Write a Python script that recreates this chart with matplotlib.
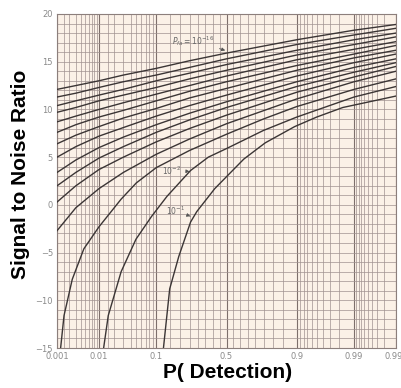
import math
import numpy as np
import matplotlib
matplotlib.use('Agg')
import matplotlib.pyplot as plt


### ----- Dados ----- ###

# colunas de P(deteção) onde as curvas foram lidas #
pd_cols = [0.001, 0.003, 0.01, 0.03, 0.1, 0.25, 0.5, 0.9, 0.99, 0.999]

# curvas que saem pela margem esquerda (dB) #
snr_e16 = [12.1, 12.5, 13.0, 13.6, 14.3, 15.1, 15.9, 17.3, 18.3, 18.9]
snr_e15 = [11.3, 11.7, 12.3, 12.9, 13.6, 14.4, 15.3, 16.8, 17.8, 18.5]
snr_e14 = [10.4, 10.9, 11.5, 12.1, 13.0, 13.8, 14.7, 16.2, 17.3, 18.0]
snr_e13 = [9.7, 10.2, 10.9, 11.5, 12.3, 13.2, 14.1, 15.7, 16.8, 17.6]
snr_e12 = [8.7, 9.3, 10.0, 10.7, 11.6, 12.5, 13.5, 15.2, 16.3, 17.1]
snr_e11 = [7.6, 8.4, 9.2, 9.9, 10.9, 11.9, 12.9, 14.6, 15.8, 16.7]
snr_e10 = [6.4, 7.3, 8.2, 9.1, 10.1, 11.2, 12.2, 14.1, 15.4, 16.2]
snr_e9 = [5.0, 6.1, 7.2, 8.1, 9.3, 10.4, 11.5, 13.5, 14.9, 15.8]
snr_e8 = [3.4, 4.7, 6.0, 7.1, 8.4, 9.6, 10.8, 12.9, 14.4, 15.3]
snr_e7 = [2.0, 3.4, 4.9, 6.1, 7.6, 8.9, 10.2, 12.4, 13.9, 14.9]
snr_e6 = [0.3, 2.0, 3.7, 5.0, 6.6, 8.0, 9.4, 11.8, 13.4, 14.5]
snr_e5 = [-2.7, -0.3, 1.7, 3.4, 5.3, 6.9, 8.5, 11.1, 12.9, 14.0]

# curvas que caem pelo fundo #
pd_e3 = [0.00124, 0.00152, 0.00245, 0.00464, 0.01, 0.0273, 0.05, 0.1, 0.25, 0.5, 0.75, 0.9, 0.99, 0.999]
snr_e3 = [-15.0, -11.6, -7.8, -4.6, -2.3, 0.6, 2.3, 3.9, 5.7, 7.4, 9.0, 10.3, 12.1, 13.2]
pd_e2 = [0.0125, 0.0155, 0.0273, 0.0493, 0.086, 0.139, 0.256, 0.37, 0.5, 0.75, 0.9, 0.99, 0.999]
snr_e2 = [-15.0, -11.6, -7.0, -3.6, -1.2, 0.9, 3.6, 5.0, 5.9, 7.8, 9.2, 11.3, 12.4]
pd_e1 = [0.125, 0.150, 0.192, 0.256, 0.294, 0.415, 0.624, 0.76, 0.893, 0.95, 0.983, 0.999]
snr_e1 = [-15.0, -8.8, -5.4, -1.8, -0.7, 1.7, 4.8, 6.5, 8.2, 9.2, 10.2, 11.4]

# eixos #
x_ticks = [0.001, 0.01, 0.1, 0.5, 0.9, 0.99, 0.999]
x_labels = ['0.001', '0.01', '0.1', '0.5', '0.9', '0.99', '0.999']
y_ticks = [-15, -10, -5, 0, 5, 10, 15, 20]

# papel de probabilidade #
v_grid = [0.0015, 0.002, 0.003, 0.004, 0.005, 0.006, 0.007, 0.008, 0.009,
          0.015, 0.02, 0.03, 0.04, 0.05, 0.06, 0.07, 0.08, 0.09,
          0.15, 0.2, 0.25, 0.3, 0.35, 0.4, 0.45, 0.55, 0.6, 0.65, 0.7, 0.75, 0.8, 0.85,
          0.91, 0.92, 0.93, 0.94, 0.95, 0.96, 0.97, 0.98,
          0.991, 0.992, 0.993, 0.994, 0.995, 0.996, 0.997, 0.998]
h_grid = list(range(-15, 21))


### ----- Escala normal (probit) ----- ###

erf_vec = np.vectorize(math.erf, otypes=[float])

def normcdf(z):
    z = np.asarray(z, dtype=float)
    return 0.5 * (1 + erf_vec(z / math.sqrt(2)))

def probit(p):
    p = np.clip(np.asarray(p, dtype=float), 1e-9, 1 - 1e-9)
    lo = np.full(p.shape, -7.0)
    hi = np.full(p.shape, 7.0)
    for _ in range(45):
        mid = 0.5 * (lo + hi)
        baixo = normcdf(mid) < p
        lo = np.where(baixo, mid, lo)
        hi = np.where(baixo, hi, mid)
    return 0.5 * (lo + hi)


### ----- Gráfico ----- ###

fig = plt.figure(figsize=(4.02, 3.88), dpi=100)
ax = fig.add_axes([0.142, 0.103, 0.843, 0.861])
ax.set_facecolor('#fbf1e7')
ax.set_xscale('function', functions=(probit, normcdf))
ax.set_xlim(0.001, 0.999)
ax.set_ylim(-15, 20)

grid_col = '#a09290'
for p in v_grid:
    ax.axvline(p, color=grid_col, lw=0.5, zorder=1)
for p in x_ticks:
    ax.axvline(p, color='#7d6f6b', lw=0.8, zorder=1)
for s in h_grid:
    ax.axhline(s, color=grid_col, lw=0.5, zorder=1)

curve_col = '#3b3535'
for snr in [snr_e16, snr_e15, snr_e14, snr_e13, snr_e12, snr_e11,
            snr_e10, snr_e9, snr_e8, snr_e7, snr_e6, snr_e5]:
    ax.plot(pd_cols, snr, color=curve_col, lw=1.0, zorder=3)
ax.plot(pd_e3, snr_e3, color=curve_col, lw=1.0, zorder=3)
ax.plot(pd_e2, snr_e2, color=curve_col, lw=1.0, zorder=3)
ax.plot(pd_e1, snr_e1, color=curve_col, lw=1.0, zorder=3)

seta = dict(arrowstyle='-|>', color='#555555', lw=0.6, mutation_scale=5)
ax.annotate(r'$P_{fa}=10^{-16}$', xy=(0.51, 16.1), xytext=(0.27, 17.2),
            fontsize=5.5, color='#666666', ha='center', va='center',
            arrowprops=seta, zorder=4)
ax.annotate(r'$10^{-2}$', xy=(0.25, 3.5), xytext=(0.16, 3.6),
            fontsize=5.5, color='#666666', ha='center', va='center',
            arrowprops=seta, zorder=4)
ax.annotate(r'$10^{-1}$', xy=(0.27, -1.3), xytext=(0.175, -0.6),
            fontsize=5.5, color='#666666', ha='center', va='center',
            arrowprops=seta, zorder=4)

ax.set_xticks(x_ticks, x_labels)
ax.set_xticks([], minor=True)
ax.set_yticks(y_ticks)
ax.tick_params(length=0, labelsize=6, labelcolor='#8a8a8a', pad=3)
for sp in ax.spines.values():
    sp.set_color('#8c7f7c')
    sp.set_linewidth(0.8)

fig.text(0.05, 0.55, 'Signal to Noise Ratio', rotation=90, ha='center', va='center',
         fontsize=15, fontweight='bold', family='Liberation Sans')
fig.text(0.565, 0.04, 'P( Detection)', ha='center', va='center',
         fontsize=15, fontweight='bold', family='Liberation Sans')

fig.savefig('out.png', dpi=100)
